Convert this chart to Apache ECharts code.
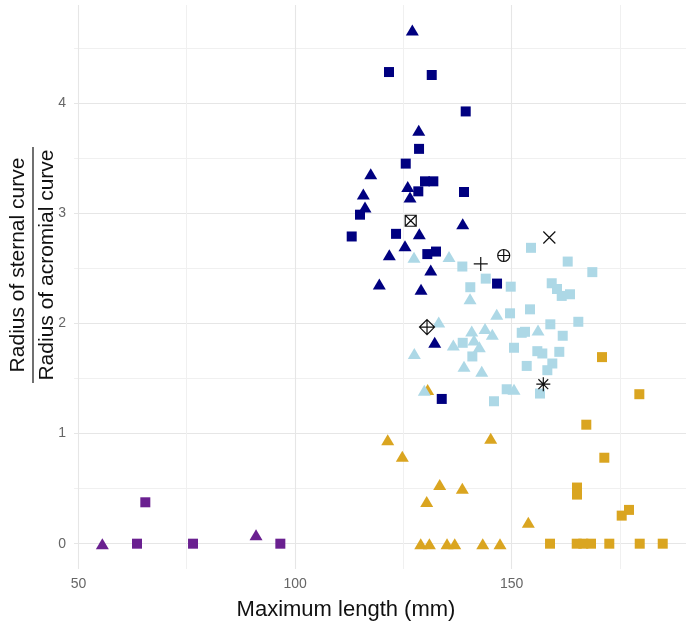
<!DOCTYPE html>
<html><head><meta charset="utf-8">
<script src="https://cdn.jsdelivr.net/npm/echarts@6/dist/echarts.min.js"></script>
<style>html,body{margin:0;padding:0;background:#fff}#c{width:686px;height:629px}</style>
</head><body><div id="c"></div>
<script>
// ---- data (x: maximum length mm, y: ratio) ----
const navyTriangles = [[127.06,4.668],[128.54,3.757],[117.46,3.362],[126.0,3.246],[126.53,3.15],[115.75,3.177],[116.14,3.059],[138.69,2.907],[128.67,2.816],[125.37,2.706],[121.75,2.624],[131.31,2.487],[119.44,2.36],[129.07,2.312],[132.23,1.831]];
const navySquares = [[121.68,4.285],[131.54,4.258],[139.38,3.927],[128.61,3.587],[125.54,3.453],[129.99,3.292],[131.91,3.292],[128.44,3.201],[138.99,3.195],[114.99,2.989],[113.07,2.791],[123.3,2.815],[130.52,2.631],[132.53,2.654],[146.61,2.363],[133.85,1.315]];
const lightTriangles = [[127.45,2.603],[135.53,2.609],[140.38,2.226],[146.54,2.084],[133.15,2.014],[156.07,1.941],[140.77,1.932],[141.3,1.85],[143.84,1.956],[145.52,1.902],[136.52,1.804],[142.52,1.789],[127.52,1.728],[138.99,1.613],[143.08,1.567],[129.83,1.394],[150.53,1.403]];
const lightSquares = [[138.6,2.518],[154.45,2.688],[162.92,2.563],[168.6,2.467],[144.0,2.408],[149.77,2.335],[140.44,2.33],[159.23,2.366],[160.45,2.314],[161.54,2.251],[163.45,2.266],[149.61,2.093],[154.22,2.129],[165.37,2.016],[158.91,1.993],[152.31,1.916],[153.07,1.925],[161.77,1.889],[138.69,1.825],[140.91,1.701],[150.53,1.78],[155.91,1.749],[157.06,1.728],[160.98,1.743],[159.37,1.637],[158.22,1.576],[153.46,1.615],[148.84,1.403],[156.53,1.364],[145.91,1.294]];
const goldTriangles = [[121.38,0.945],[145.15,0.959],[124.75,0.795],[133.38,0.538],[138.6,0.504],[130.38,0.383],[153.83,0.194],[130.6,1.40],[129.0,0],[131.0,0],[135.07,0],[136.85,0],[143.31,0],[147.3,0]];
const goldSquares = [[170.84,1.695],[179.45,1.358],[167.21,1.081],[171.37,0.781],[165.07,0.51],[165.07,0.446],[175.38,0.255],[177.07,0.307],[158.84,0],[165.0,0],[166.52,0],[168.3,0],[172.52,0],[179.54,0],[184.85,0]];
const purpleTriangles = [[55.52,0],[90.99,0.082]];
const purpleSquares = [[63.52,0],[65.44,0.376],[76.45,0],[96.6,0]];
const specialPoints = [[126.69,2.934],[142.85,2.542],[148.15,2.618],[158.68,2.782],[130.45,1.968],[157.29,1.449]];
const specialShapes = ['squareCross','plus','circlePlus','cross','diamondPlus','asterisk'];

const xMajorTicks = [50,100,150];
const xMinorTicks = [75,125,175];
const yMajorTicks = [0,1,2,3,4];
const yMinorTicks = [0.5,1.5,2.5,3.5,4.5];

// ---- styling ----
const shapePaths = {
  squareCross: ['path://M0,0L10,0L10,10L0,10ZM0,0L10,10M10,0L0,10', 11],
  plus: ['path://M5,0L5,10M0,5L10,5', 14],
  circlePlus: ['path://M10,5A5,5,0,1,1,0,5A5,5,0,1,1,10,5ZM5,0L5,10M0,5L10,5', 12],
  cross: ['path://M0,0L10,10M10,0L0,10', 12],
  diamondPlus: ['path://M5,0L10,5L5,10L0,5ZM5,0L5,10M0,5L10,5', 15],
  asterisk: ['path://M5,0L5,10M0,5L10,5M1.5,1.5L8.5,8.5M8.5,1.5L1.5,8.5', 14]
};
const FONT = 'Liberation Sans, Arial, sans-serif';
const X_MIN = 48.98, X_MAX = 190.22, Y_MIN = -0.23, Y_MAX = 4.894;

function pts(data, color, symbol) {
  return {
    type: 'scatter', data: data, symbol: symbol,
    symbolSize: symbol === 'triangle' ? [13, 11] : 10,
    itemStyle: { color: color, opacity: 1 },
    silent: true, animation: false
  };
}

const chart = echarts.init(document.getElementById('c'), null, { renderer: 'canvas' });
const hiddenAxisParts = { axisLine: { show: false }, axisLabel: { show: false } };
chart.setOption({
  backgroundColor: '#fff',
  animation: false,
  grid: { left: 74, right: 0, top: 5, bottom: 60, containLabel: false, outerBoundsMode: 'none' },
  xAxis: [
    {
      type: 'value', min: X_MIN, max: X_MAX,
      name: 'Maximum length (mm)', nameLocation: 'middle', nameGap: 30,
      nameTextStyle: { fontFamily: FONT, fontSize: 22, color: '#111', padding: [0, 68, 0, 0] },
      axisLine: { show: false },
      axisTick: { show: false, customValues: xMajorTicks },
      axisLabel: { customValues: xMajorTicks, fontFamily: FONT, fontSize: 14, color: '#666', margin: 8 },
      splitLine: { show: true, lineStyle: { color: '#e6e6e6', width: 1.1 } }
    },
    Object.assign({
      type: 'value', min: X_MIN, max: X_MAX, position: 'bottom',
      axisTick: { show: false, customValues: xMinorTicks },
      splitLine: { show: true, lineStyle: { color: '#f0f0f0', width: 1 } }
    }, hiddenAxisParts)
  ],
  yAxis: [
    {
      type: 'value', min: Y_MIN, max: Y_MAX,
      name: '{a|Radius of sternal curve}\n{l| }\n{a|Radius of acromial curve}',
      nameLocation: 'middle', nameRotate: 90, nameGap: 14, nameMoveOverlap: false,
      nameTextStyle: {
        padding: [0, 0, 0, 44],
        rich: {
          a: { fontFamily: FONT, fontSize: 21, color: '#111', lineHeight: 25, align: 'center' },
          l: { width: 236, height: 1.2, lineHeight: 4, backgroundColor: '#111', fontSize: 1, align: 'center' }
        }
      },
      axisLine: { show: false },
      axisTick: { show: false, customValues: yMajorTicks },
      axisLabel: { customValues: yMajorTicks, fontFamily: FONT, fontSize: 14, color: '#666', margin: 8 },
      splitLine: { show: true, lineStyle: { color: '#e6e6e6', width: 1.1 } }
    },
    Object.assign({
      type: 'value', min: Y_MIN, max: Y_MAX, position: 'left',
      axisTick: { show: false, customValues: yMinorTicks },
      splitLine: { show: true, lineStyle: { color: '#f0f0f0', width: 1 } }
    }, hiddenAxisParts)
  ],
  series: [
    pts(goldTriangles, '#DAA520', 'triangle'),
    pts(goldSquares, '#DAA520', 'rect'),
    pts(purpleTriangles, '#6A2090', 'triangle'),
    pts(purpleSquares, '#6A2090', 'rect'),
    pts(lightTriangles, '#ADD8E6', 'triangle'),
    pts(lightSquares, '#ADD8E6', 'rect'),
    pts(navyTriangles, '#000080', 'triangle'),
    pts(navySquares, '#000080', 'rect'),
    {
      type: 'scatter', silent: true, animation: false,
      data: specialPoints.map((p, i) => ({
        value: p,
        symbol: shapePaths[specialShapes[i]][0],
        symbolSize: shapePaths[specialShapes[i]][1]
      })),
      itemStyle: { color: 'rgba(0,0,0,0)', borderColor: '#111', borderWidth: 1.2, opacity: 1 }
    }
  ]
});
</script></body></html>
